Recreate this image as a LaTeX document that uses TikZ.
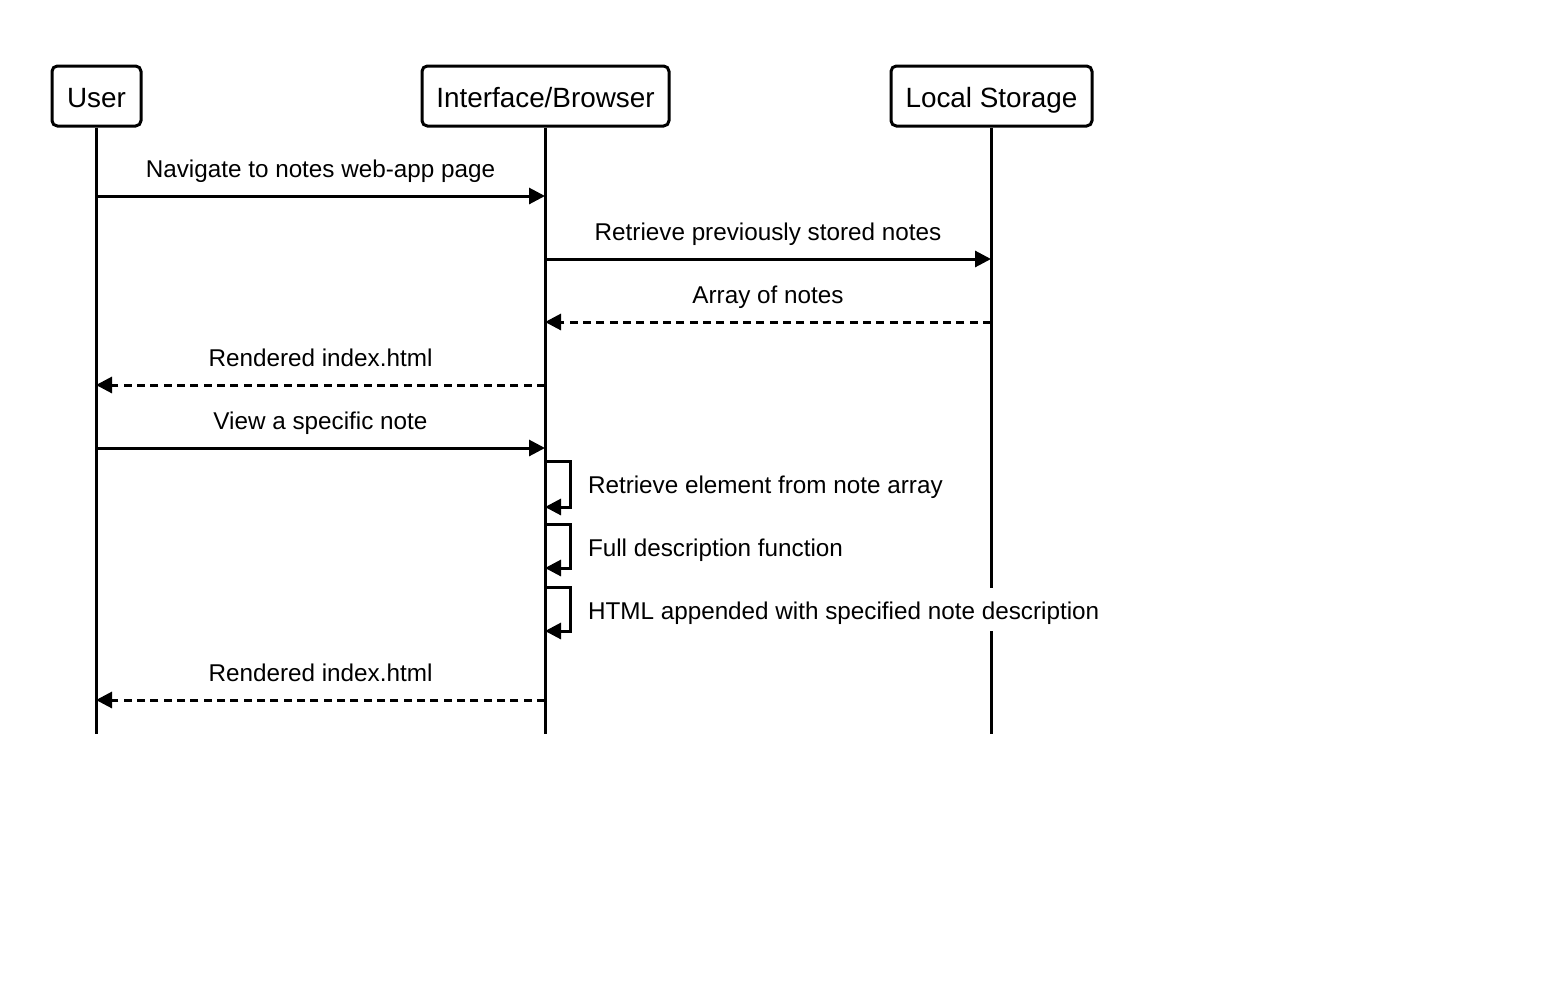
\documentclass[tikz,border=0pt]{standalone}
\usepackage{fontspec}
\setmainfont{Liberation Sans}
\usetikzlibrary{arrows.meta}
\begin{document}
\begin{tikzpicture}[x=0.75pt,y=-0.75pt,
  every path/.style={line width=2.25pt},
  actor/.style={draw,line width=2.25pt,rounded corners=4pt,minimum height=45pt,inner sep=0pt},
  hdr/.style={font=\fontsize{20.9pt}{24pt}\selectfont,anchor=base,inner sep=0pt},
  lifeline/.style={line width=2.25pt},
  msg/.style={line width=2.25pt,-{Triangle[length=12pt,width=12pt]}},
  reply/.style={msg,dash pattern=on 6pt off 4pt},
  lbl/.style={font=\fontsize{18.2pt}{21pt}\selectfont,anchor=base,inner sep=0pt},
  slbl/.style={lbl,anchor=base west},
  self/.style={msg,line join=miter}
]
\useasboundingbox (0,0) rectangle (1542,986);

% actors
\node[actor,minimum width=66.75pt] (user) at (96.5,96) {};
\node[actor,minimum width=185.25pt] (ui) at (545.5,96) {};
\node[actor,minimum width=150.75pt] (ls) at (991.5,96) {};
\node[hdr] (userT) at (96.5,107) {User};
\node[hdr] (uiT) at (545.5,107) {Interface/Browser};
\node[hdr] (lsT) at (991.5,107) {Local Storage};

% lifeline ends
\coordinate (uEnd) at (96,734);
\coordinate (iEnd) at (545,734);
\coordinate (lEnd) at (991,734);
\draw[lifeline] (user.south -| uEnd) -- (uEnd);
\draw[lifeline] (ui.south -| iEnd) -- (iEnd);
\draw[lifeline] (ls.south -| lEnd) -- (lEnd);

% message points
\coordinate (u1) at (96,196);  \coordinate (i1) at (545,196);
\coordinate (i2) at (545,259); \coordinate (l2) at (991,259);
\coordinate (l3) at (991,322); \coordinate (i3) at (545,322);
\coordinate (i4) at (545,385); \coordinate (u4) at (96,385);
\coordinate (u5) at (96,448);  \coordinate (i5) at (545,448);
\coordinate (i9) at (545,700); \coordinate (u9) at (96,700);

\draw[msg] (u1) -- (i1);
\node[lbl] (t1) at (320.5,177.5) {Navigate to notes web-app page};
\draw[msg] (i2) -- (l2);
\node[lbl] (t2) at (768,240.5) {Retrieve previously stored notes};
\draw[reply] (l3) -- (i3);
\node[lbl] (t3) at (768,303.5) {Array of notes};
\draw[reply] (i4) -- (u4);
\node[lbl] (t4) at (320.5,366.5) {Rendered index.html};
\draw[msg] (u5) -- (i5);
\node[lbl] (t5) at (320.5,429.5) {View a specific note};

% self messages
\coordinate (s1a) at (545,461); \coordinate (s1b) at (545,507);
\coordinate (s2a) at (545,524); \coordinate (s2b) at (545,568);
\coordinate (s3a) at (545,587); \coordinate (s3b) at (545,631);
\draw[self] (s1a) -- ++(25,0) |- (s1b);
\node[slbl] (t6) at (586.5,493.5) {Retrieve element from note array};
\draw[self] (s2a) -- ++(25,0) |- (s2b);
\node[slbl] (t7) at (586.5,556.5) {Full description function};
\draw[self] (s3a) -- ++(25,0) |- (s3b);
\node[slbl,fill=white,text height=24pt,text depth=8.25pt] (t8) at (586.5,619.5) {HTML appended with specified note description};

\draw[reply] (i9) -- (u9);
\node[lbl] (t9) at (320.5,681.5) {Rendered index.html};
\end{tikzpicture}
\end{document}
